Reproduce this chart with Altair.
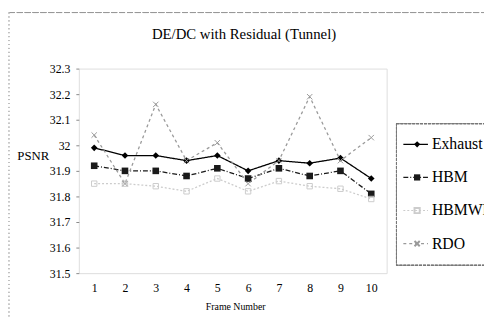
import altair as alt
import pandas as pd

frames = list(range(1, 11))
series = ["Exhaust", "HBM", "HBMWP", "RDO"]
exhaust = [31.99, 31.96, 31.96, 31.94, 31.96, 31.90, 31.94, 31.93, 31.95, 31.87]
hbm = [31.92, 31.90, 31.90, 31.88, 31.91, 31.87, 31.91, 31.88, 31.90, 31.81]
hbmwp = [31.85, 31.85, 31.84, 31.82, 31.87, 31.82, 31.86, 31.84, 31.83, 31.79]
rdo = [32.04, 31.85, 32.16, 31.94, 32.01, 31.85, 31.94, 32.19, 31.94, 32.03]
y_ticks = [31.5, 31.6, 31.7, 31.8, 31.9, 32.0, 32.1, 32.2, 32.3]
chart_title = "DE/DC with Residual (Tunnel)"

colors = ["#000000", "#1a1a1a", "#cccccc", "#9a9a9a"]
dashes = [[1, 0], [5, 2, 1, 2], [2, 2], [3, 3]]
shapes = ["diamond", "square", "square", "M-1,-1L1,1M-1,1L1,-1"]

rows = []
for name, vals in zip(series, [exhaust, hbm, hbmwp, rdo]):
    for f, v in zip(frames, vals):
        rows.append({"frame": f, "psnr": v, "series": name})
df = pd.DataFrame(rows)
leg_df = pd.DataFrame({"series": series})
title_df = pd.DataFrame({"t": [chart_title]})

FONT = "Liberation Serif"
W, H = 313, 208

color = alt.Color("series:N", scale=alt.Scale(domain=series, range=colors), legend=None)
dash = alt.StrokeDash("series:N", scale=alt.Scale(domain=series, range=dashes), legend=None)
shape = alt.Shape("series:N", scale=alt.Scale(domain=series, range=shapes), legend=None)

x = alt.X("frame:O", scale=alt.Scale(type="point", padding=0.5),
          axis=alt.Axis(title="Frame Number", labelAngle=0, labelFontSize=12,
                        labelColor="#000", titleFontSize=10, titleFontWeight="normal",
                        titleColor="#000", domain=False, ticks=False, labelPadding=10,
                        titlePadding=8, titleX=159))
y = alt.Y("psnr:Q", scale=alt.Scale(domain=[31.5, 32.3], nice=False, zero=False),
          axis=alt.Axis(title="PSNR", values=y_ticks, format="~g", labelFontSize=12,
                        labelColor="#000", titleFontSize=13, titleFontWeight="normal",
                        titleColor="#000", titleAngle=0, titleX=-63, titleY=88, titleAlign="left",
                        titleBaseline="middle", domain=False, ticks=True, tickSize=3,
                        tickColor="#888", labelPadding=6, grid=False))

base = alt.Chart(df)
lines = base.mark_line(strokeWidth=1.3).encode(x=x, y=y, color=color, strokeDash=dash)
filled = base.transform_filter(
    alt.FieldOneOfPredicate(field="series", oneOf=["Exhaust", "HBM"])
).mark_point(filled=True, size=45, opacity=1).encode(x=x, y=y, color=color, shape=shape)
hollow = base.transform_filter(
    alt.FieldOneOfPredicate(field="series", oneOf=["HBMWP", "RDO"])
).mark_point(filled=False, size=30, strokeWidth=1, opacity=1).encode(x=x, y=y, color=color, shape=shape)

main = alt.layer(lines, filled, hollow)

ly = alt.Y("series:N", scale=alt.Scale(type="point", domain=series, range=[77, 178], padding=0), axis=None)
leg_c = alt.Color("series:N", scale=alt.Scale(domain=series, range=colors), legend=None)
lc = alt.Chart(leg_df)
leg_box = lc.mark_rect(fill=None, stroke="#777", strokeWidth=1, strokeDash=[3, 1]).encode(
    x=alt.value(323), x2=alt.value(440), y=alt.value(56), y2=alt.value(200))
leg_lines = lc.mark_rule(strokeWidth=1.2).encode(
    x=alt.value(330), x2=alt.value(355), y=ly, color=leg_c,
    strokeDash=alt.StrokeDash("series:N", scale=alt.Scale(domain=series, range=dashes), legend=None))
leg_f = lc.transform_filter(
    alt.FieldOneOfPredicate(field="series", oneOf=["Exhaust", "HBM"])
).mark_point(filled=True, size=40, opacity=1).encode(x=alt.value(344), y=ly, color=leg_c,
    shape=alt.Shape("series:N", scale=alt.Scale(domain=series, range=shapes), legend=None))
leg_h = lc.transform_filter(
    alt.FieldOneOfPredicate(field="series", oneOf=["HBMWP", "RDO"])
).mark_point(filled=False, size=28, opacity=1).encode(x=alt.value(344), y=ly, color=leg_c,
    shape=alt.Shape("series:N", scale=alt.Scale(domain=series, range=shapes), legend=None))
leg_t = lc.mark_text(align="left", baseline="middle", fontSize=16, color="#000").encode(
    x=alt.value(359), y=ly, text="series:N")
frame_top = lc.mark_rule(color="#999", strokeDash=[6, 2], strokeWidth=1).encode(
    x=alt.value(-71), x2=alt.value(420), y=alt.value(-57))
frame_left = lc.mark_rule(color="#bbb", strokeDash=[1, 3], strokeWidth=1).encode(
    x=alt.value(-71), y=alt.value(-57), y2=alt.value(260))
title_mark = alt.Chart(title_df).mark_text(
    align="center", baseline="middle", fontSize=15, color="#000"
).encode(x=alt.value(168), y=alt.value(-35), text="t:N")

legend = alt.layer(leg_box, leg_lines, leg_f, leg_h, leg_t, frame_top, frame_left, title_mark)

chart = alt.layer(main, legend).resolve_scale(
    y="independent", color="independent", strokeDash="independent", shape="independent"
).properties(
    width=W, height=H,
    autosize=alt.AutoSizeParams(type="none"),
    padding={"left": 72, "top": 59, "right": 99, "bottom": 43},
).configure_view(
    stroke="#666", strokeDash=[2, 1], strokeWidth=1
).configure_axis(
    labelFont=FONT, titleFont=FONT
).configure_text(
    font=FONT
).configure(background="white", font=FONT)

chart.save("out.html", embed_options={"renderer": "svg", "actions": False})
